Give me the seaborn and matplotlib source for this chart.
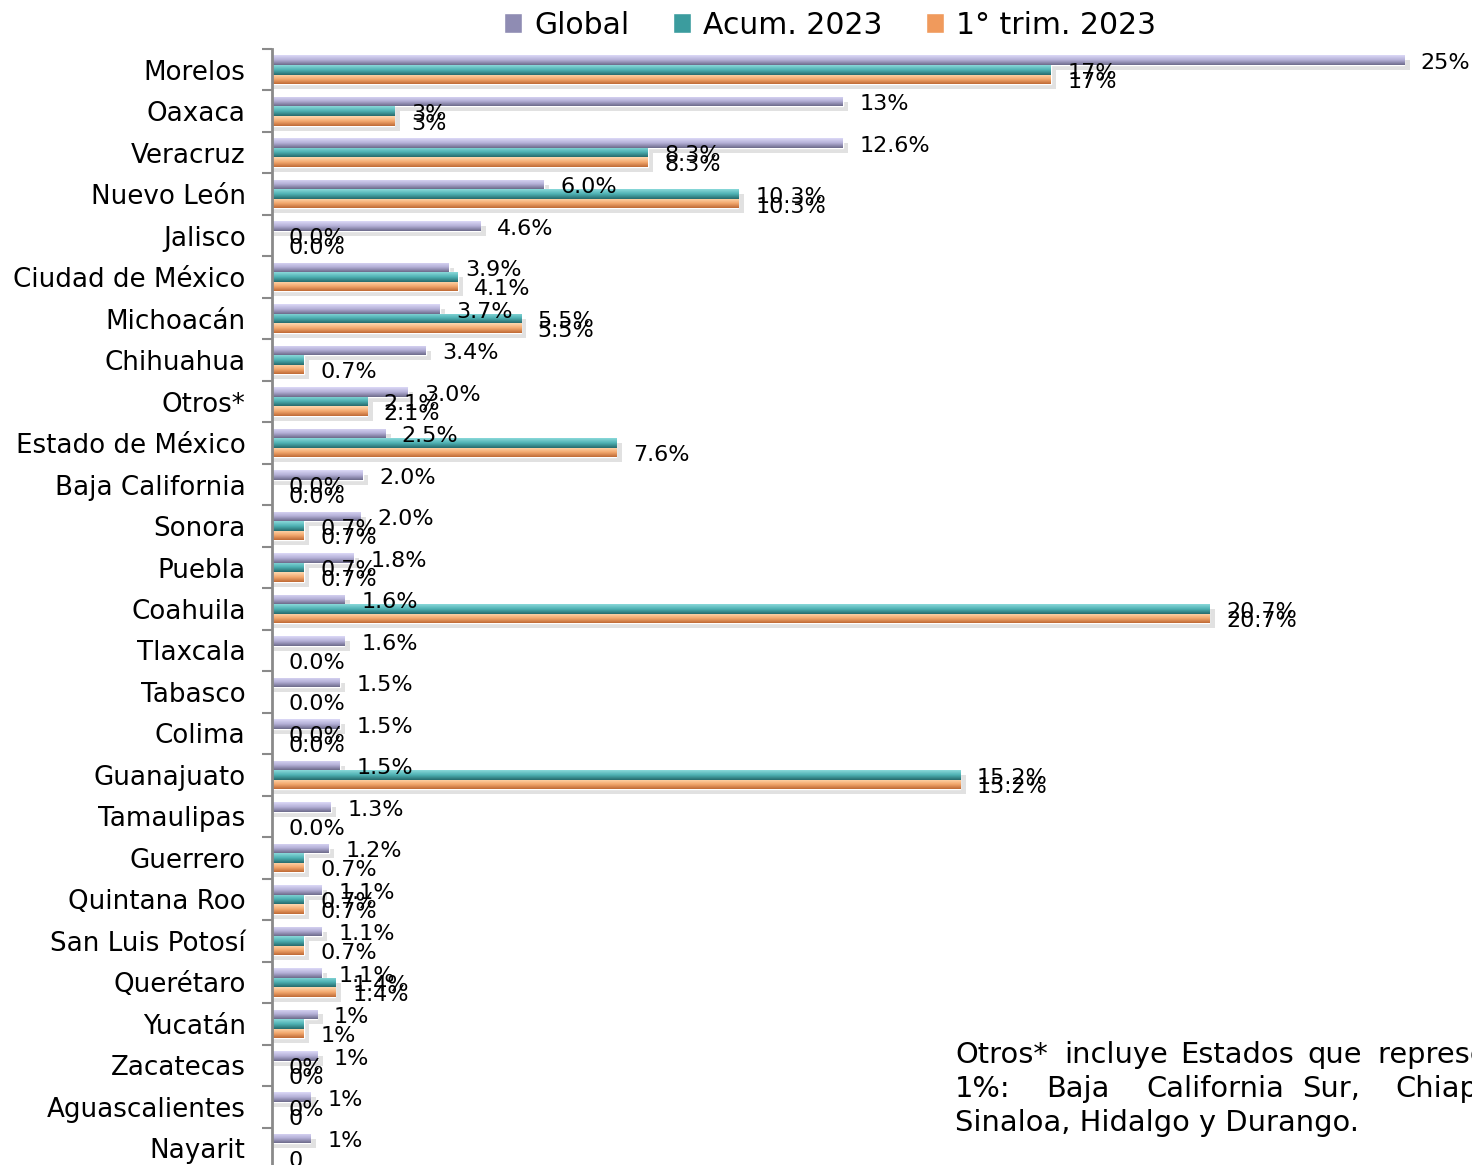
import numpy as np
import pandas as pd
import seaborn as sns
import matplotlib.pyplot as plt
from matplotlib.colors import LinearSegmentedColormap
from matplotlib.patches import Rectangle

states = ["Morelos", "Oaxaca", "Veracruz", "Nuevo León", "Jalisco", "Ciudad de México",
          "Michoacán", "Chihuahua", "Otros*", "Estado de México", "Baja California",
          "Sonora", "Puebla", "Coahuila", "Tlaxcala", "Tabasco", "Colima", "Guanajuato",
          "Tamaulipas", "Guerrero", "Quintana Roo", "San Luis Potosí", "Querétaro",
          "Yucatán", "Zacatecas", "Aguascalientes", "Nayarit"]

series = ["Global", "Acum. 2023", "1° trim. 2023"]

global_vals = [25.0, 12.6, 12.6, 6.0, 4.6, 3.9, 3.7, 3.4, 3.0, 2.5, 2.0, 1.95, 1.8, 1.6, 1.6,
               1.5, 1.5, 1.5, 1.3, 1.25, 1.1, 1.1, 1.1, 1.0, 1.0, 0.85, 0.85]
acum_vals = [17.2, 2.7, 8.3, 10.3, 0.0, 4.1, 5.5, 0.7, 2.1, 7.6, 0.0, 0.7, 0.7, 20.7, 0.0,
             0.0, 0.0, 15.2, 0.0, 0.7, 0.7, 0.7, 1.4, 0.7, 0.0, 0.0, 0.0]
trim_vals = [17.2, 2.7, 8.3, 10.3, 0.0, 4.1, 5.5, 0.7, 2.1, 7.6, 0.0, 0.7, 0.7, 20.7, 0.0,
             0.0, 0.0, 15.2, 0.0, 0.7, 0.7, 0.7, 1.4, 0.7, 0.0, 0.0, 0.0]

global_lbl = ["25%", "13%", "12.6%", "6.0%", "4.6%", "3.9%", "3.7%", "3.4%", "3.0%", "2.5%",
              "2.0%", "2.0%", "1.8%", "1.6%", "1.6%", "1.5%", "1.5%", "1.5%", "1.3%", "1.2%",
              "1.1%", "1.1%", "1.1%", "1%", "1%", "1%", "1%"]
acum_lbl = ["17%", "3%", "8.3%", "10.3%", "0.0%", "", "5.5%", "", "2.1%", "", "0.0%",
            "0.7%", "0.7%", "20.7%", "", "", "0.0%", "15.2%", "", "", "0.7%", "",
            "1.4%", "", "0%", "0%", ""]
trim_lbl = ["17%", "3%", "8.3%", "10.3%", "0.0%", "4.1%", "5.5%", "0.7%", "2.1%", "7.6%",
            "0.0%", "0.7%", "0.7%", "20.7%", "0.0%", "0.0%", "0.0%", "15.2%", "0.0%", "0.7%",
            "0.7%", "0.7%", "1.4%", "1%", "0%", "0", "0"]

note_lines = [
    ["Otros*", "incluye", "Estados", "que", "representan menos del"],
    ["1%:", "Baja", "California", "Sur,", "Chiapas,"],
    ["Sinaloa, Hidalgo y Durango."],
]
note_x = [[955, 1064, 1180, 1307, 1378],
          [955, 1046, 1146, 1302, 1395],
          [955]]

# colours: legend / base, and gradient (top, mid, bottom) per series
base_colors = ["#8f8cb3", "#3b9c9e", "#f09a5c"]
gradients = [["#dcd9f7", "#b3afd6", "#6c6a8a"],
             ["#8ad9da", "#4db0b2", "#276a6c"],
             ["#ffd9b0", "#f3a96f", "#bf6a35"]]

df = pd.DataFrame({
    "Estado": states * 3,
    "Serie": np.repeat(series, len(states)),
    "Valor": global_vals + acum_vals + trim_vals,
})

W, H = 1472, 1165
sns.set_theme(style="white")
plt.rcParams["font.family"] = ["DejaVu Sans"]
plt.rcParams["text.color"] = "black"
fig = plt.figure(figsize=(W / 100, H / 100), dpi=100)
ax = fig.add_axes([272 / W, -4 / H, 1200 / W, 1120 / H])

sns.barplot(data=df, y="Estado", x="Valor", hue="Serie", orient="h",
            palette=base_colors, width=0.69, gap=0, ax=ax, saturation=1)

xlim = (0, 26.5)
ylim = (26.5, -0.5)

labels_all = [global_lbl, acum_lbl, trim_lbl]
for si, cont in enumerate(ax.containers):
    cmap = LinearSegmentedColormap.from_list(f"g{si}", gradients[si])
    grad = np.linspace(0, 1, 64).reshape(-1, 1)
    for bar, lbl in zip(cont, labels_all[si]):
        x0, y0 = bar.get_x(), bar.get_y()
        w, h = bar.get_width(), bar.get_height()
        if w > 0:
            # soft floor shadow
            ax.add_patch(Rectangle((x0, y0 + 0.12), w + 0.12, h, facecolor="#c9c9c9",
                                   edgecolor="none", alpha=0.55, zorder=0.5))
            im = ax.imshow(grad, cmap=cmap, aspect="auto", origin="lower",
                           extent=(x0, x0 + w, y0, y0 + h), zorder=2)
            im.set_clip_path(bar)
        if lbl:
            ax.annotate(lbl, (x0 + w, y0 + h / 2), xytext=(12, -2),
                        textcoords="offset points", ha="left", va="center",
                        fontsize=16, color="black", zorder=5, annotation_clip=False)

ax.set_xlim(*xlim)
ax.set_ylim(*ylim)

ax.set_xlabel("")
ax.set_ylabel("")
ax.set_xticks([])
ax.set_yticks(range(len(states)))
ax.set_yticklabels(states, fontsize=18.8, color="black")
ax.set_yticks(np.arange(-0.5, len(states), 1.0), minor=True)
ax.tick_params(axis="y", which="major", length=0, pad=19)
ax.tick_params(axis="y", which="minor", length=7.5, width=1.5, color="#8a8a8a", left=True)
for s in ["top", "right", "bottom"]:
    ax.spines[s].set_visible(False)
ax.spines["left"].set_color("#8a8a8a")
ax.spines["left"].set_linewidth(2)

handles, labels = ax.get_legend_handles_labels()
ax.get_legend().remove()
leg = fig.legend(handles, labels, loc="center", bbox_to_anchor=(0.564, 1 - 25 / H), ncol=3,
                 frameon=False, fontsize=21.5, handlelength=0.62, handleheight=0.62,
                 handletextpad=0.4, columnspacing=1.45)
for t in leg.get_texts():
    t.set_color("black")

baselines = [1063, 1097, 1131]
for words, xs, yb in zip(note_lines, note_x, baselines):
    for word, xp in zip(words, xs):
        fig.text(xp / W, 1 - yb / H, word, fontsize=20.8, ha="left", va="baseline",
                 color="black")

fig.savefig("out.png", dpi=100)
